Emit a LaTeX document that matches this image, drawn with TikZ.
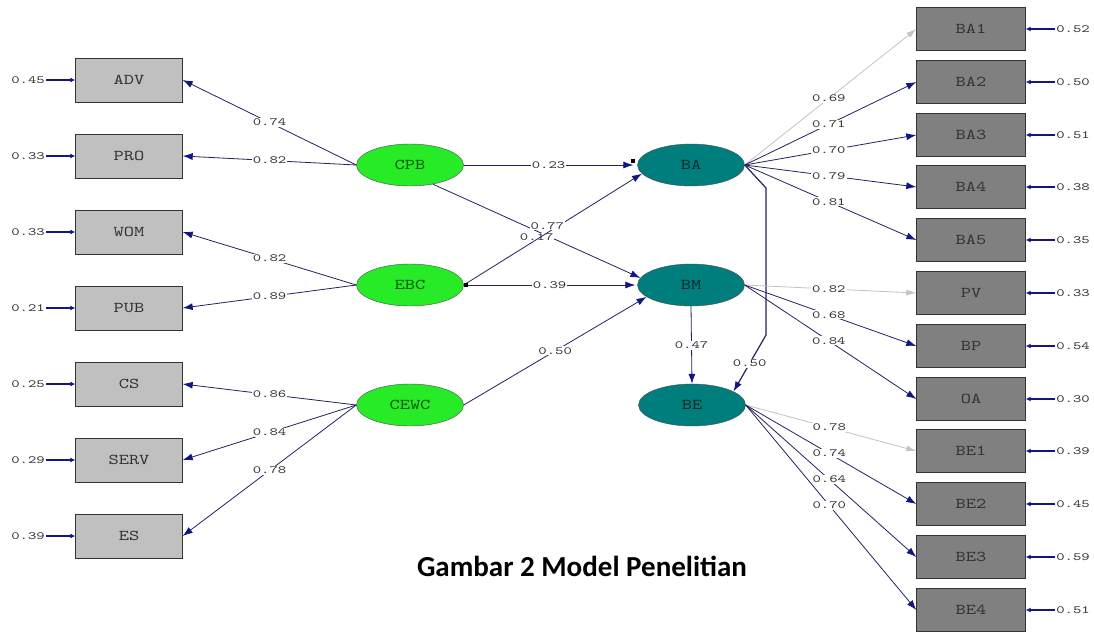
\documentclass[tikz,border=0pt]{standalone}
\usepackage{fontspec}
\usetikzlibrary{shapes.geometric,arrows.meta}

\newfontfamily\lisfont[FakeStretch=1.3]{lmmono10-regular.otf}
\newfontfamily\numfont[FakeStretch=1.45]{lmmono10-regular.otf}
\newfontfamily\capfont{Carlito}

\definecolor{pathblue}{RGB}{35,35,95}
\definecolor{headblue}{RGB}{20,20,135}
\definecolor{exogreen}{RGB}{40,235,40}
\definecolor{endoteal}{RGB}{0,125,125}
\definecolor{obslight}{RGB}{192,192,192}
\definecolor{obsdark}{RGB}{128,128,128}
\definecolor{faint}{RGB}{195,195,195}

\tikzset{
  obsL/.style={draw=black!80, fill=obslight, minimum width=107pt, minimum height=44pt,
    inner sep=0pt, text=black!80, font=\lisfont\fontsize{15}{15}\selectfont},
  obsR/.style={obsL, fill=obsdark, minimum width=109pt, minimum height=43pt},
  exo/.style={ellipse, draw=black!70, fill=exogreen, minimum width=107pt, minimum height=42pt,
    inner sep=0pt, text=green!35!black, font=\lisfont\fontsize{15}{15}\selectfont},
  endo/.style={exo, fill=endoteal, text=teal!35!black},
  coef/.style={fill=white, inner sep=1pt, text=black!80, font=\numfont\fontsize{11}{11}\selectfont},
  errnum/.style={inner sep=1pt, text=black!80, font=\numfont\fontsize{11}{11}\selectfont},
  load/.style={draw=pathblue, line width=0.8pt, -{Latex[length=10pt,width=7pt,color=headblue]}},
  weak/.style={draw=faint, line width=0.8pt, -{Latex[length=10pt,width=6pt]}},
  err/.style={draw=headblue, line width=1.4pt, -{Latex[length=5pt,width=5pt]}}
}

\begin{document}
\begin{tikzpicture}[x=1pt,y=-1pt]
  % page
  \fill[white] (0,0) rectangle (1094,633);
  \useasboundingbox (0,0) rectangle (1094,633);

  % indicators, exogenous side
  \node[obsL] (ADV)  at (129,80)  {ADV};
  \node[obsL] (PRO)  at (129,156) {PRO};
  \node[obsL] (WOM)  at (129,232) {WOM};
  \node[obsL] (PUB)  at (129,308) {PUB};
  \node[obsL] (CS)   at (129,384) {CS};
  \node[obsL] (SERV) at (129,460) {SERV};
  \node[obsL] (ES)   at (129,536) {ES};

  % error variances, left
  \node[errnum] (eADV)  at (28,80)  {0.45};
  \node[errnum] (ePRO)  at (28,156) {0.33};
  \node[errnum] (eWOM)  at (28,232) {0.33};
  \node[errnum] (ePUB)  at (28,308) {0.21};
  \node[errnum] (eCS)   at (28,384) {0.25};
  \node[errnum] (eSERV) at (28,460) {0.29};
  \node[errnum] (eES)   at (28,536) {0.39};
  \draw[err] (eADV) -- (ADV.west);
  \draw[err] (ePRO) -- (PRO.west);
  \draw[err] (eWOM) -- (WOM.west);
  \draw[err] (ePUB) -- (PUB.west);
  \draw[err] (eCS) -- (CS.west);
  \draw[err] (eSERV) -- (SERV.west);
  \draw[err] (eES) -- (ES.west);

  % latent variables
  \node[exo]  (CPB)  at (410,165) {CPB};
  \node[exo]  (EBC)  at (410,285) {EBC};
  \node[exo]  (CEWC) at (410,405) {CEWC};
  \node[endo] (BA)   at (691,165) {BA};
  \node[endo] (BM)   at (691,285) {BM};
  \node[endo] (BE)   at (692,405) {BE};

  % indicators, endogenous side
  \node[obsR] (BA1) at (971,29)  {BA1};
  \node[obsR] (BA2) at (971,82)  {BA2};
  \node[obsR] (BA3) at (971,135) {BA3};
  \node[obsR] (BA4) at (971,187) {BA4};
  \node[obsR] (BA5) at (971,240) {BA5};
  \node[obsR] (PV)  at (971,293) {PV};
  \node[obsR] (BP)  at (971,346) {BP};
  \node[obsR] (OA)  at (971,399) {OA};
  \node[obsR] (BE1) at (971,451) {BE1};
  \node[obsR] (BE2) at (971,504) {BE2};
  \node[obsR] (BE3) at (971,557) {BE3};
  \node[obsR] (BE4) at (971,610) {BE4};

  % error variances, right
  \node[errnum] (eBA1) at (1073,29)  {0.52};
  \node[errnum] (eBA2) at (1073,82)  {0.50};
  \node[errnum] (eBA3) at (1073,135) {0.51};
  \node[errnum] (eBA4) at (1073,187) {0.38};
  \node[errnum] (eBA5) at (1073,240) {0.35};
  \node[errnum] (ePV)  at (1073,293) {0.33};
  \node[errnum] (eBP)  at (1073,346) {0.54};
  \node[errnum] (eOA)  at (1073,399) {0.30};
  \node[errnum] (eBE1) at (1073,451) {0.39};
  \node[errnum] (eBE2) at (1073,504) {0.45};
  \node[errnum] (eBE3) at (1073,557) {0.59};
  \node[errnum] (eBE4) at (1073,610) {0.51};
  \draw[err] (eBA1) -- (BA1.east);
  \draw[err] (eBA2) -- (BA2.east);
  \draw[err] (eBA3) -- (BA3.east);
  \draw[err] (eBA4) -- (BA4.east);
  \draw[err] (eBA5) -- (BA5.east);
  \draw[err] (ePV) -- (PV.east);
  \draw[err] (eBP) -- (BP.east);
  \draw[err] (eOA) -- (OA.east);
  \draw[err] (eBE1) -- (BE1.east);
  \draw[err] (eBE2) -- (BE2.east);
  \draw[err] (eBE3) -- (BE3.east);
  \draw[err] (eBE4) -- (BE4.east);

  % loadings, exogenous
  \draw[load] (CPB.west) -- node[coef] {0.74} (ADV.east);
  \draw[load] (CPB.west) -- node[coef] {0.82} (PRO.east);
  \draw[load] (EBC.west) -- node[coef] {0.82} (WOM.east);
  \draw[load] (EBC.west) -- node[coef] {0.89} (PUB.east);
  \draw[load] (CEWC.west) -- node[coef] {0.86} (CS.east);
  \draw[load] (CEWC.west) -- node[coef] {0.84} (SERV.east);
  \draw[load] (CEWC.west) -- node[coef] {0.78} (ES.east);

  % structural paths
  \draw[load] (CPB.east) -- node[coef] {0.23} ([xshift=-4pt]BA.west);
  \draw[load] (CPB.-40) -- node[coef, pos=0.5, yshift=-6pt] {0.17} (BM.172);
  \draw[load] (EBC.east) -- node[coef, pos=0.47, yshift=7pt] {0.77} (BA.190);
  \draw[load] (EBC.east) -- node[coef] {0.39} ([xshift=-2pt]BM.west);
  \draw[load] (CEWC.east) -- node[coef] {0.50} (BM.195);
  \draw[load] (BM.south) -- node[coef] {0.47} (BE.north);
  \draw[load, line width=1.2pt] (BA.east) -- (766,188) -- (766,335) -- node[coef] {0.50} (BE.18);
  \fill[black] (631,159) rectangle (635,163);
  \fill[black] (464,283) rectangle (468,287);

  % loadings, endogenous
  \draw[weak] (BA.east) -- node[coef, pos=0.49] {0.69} (BA1.west);
  \draw[load] (BA.east) -- node[coef, pos=0.49] {0.71} (BA2.west);
  \draw[load] (BA.east) -- node[coef, pos=0.49] {0.70} (BA3.west);
  \draw[load] (BA.east) -- node[coef, pos=0.49] {0.79} (BA4.west);
  \draw[load] (BA.east) -- node[coef, pos=0.49] {0.81} (BA5.west);
  \draw[weak] (BM.east) -- node[coef, pos=0.49] {0.82} (PV.west);
  \draw[load] (BM.east) -- node[coef, pos=0.49] {0.68} (BP.west);
  \draw[load] (BM.east) -- node[coef, pos=0.49] {0.84} (OA.west);
  \draw[weak] (BE.east) -- node[coef, pos=0.49] {0.78} (BE1.west);
  \draw[load] (BE.east) -- node[coef, pos=0.49] {0.74} (BE2.west);
  \draw[load] (BE.east) -- node[coef, pos=0.49] {0.64} (BE3.west);
  \draw[load] (BE.east) -- node[coef, pos=0.49] {0.70} (BE4.west);

  % caption
  \node[font=\capfont\bfseries\fontsize{29}{29}\selectfont] (caption) at (582,566) {Gambar 2 Model Penelitian};
\end{tikzpicture}
\end{document}
